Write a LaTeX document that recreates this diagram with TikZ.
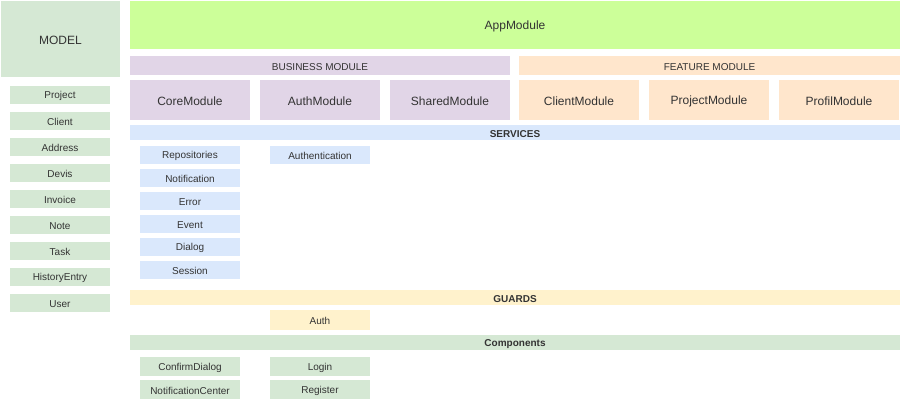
\documentclass[tikz,border=0pt]{standalone}
\usepackage{fontspec}
\setmainfont{Liberation Sans}
\definecolor{cgreen}{HTML}{D5E8D4}
\definecolor{cpurple}{HTML}{E1D5E7}
\definecolor{corange}{HTML}{FFE6CC}
\definecolor{cblue}{HTML}{DAE8FC}
\definecolor{cyellow}{HTML}{FFF2CC}
\definecolor{clime}{HTML}{CCFF99}
\definecolor{ctext}{HTML}{333333}
\begin{document}
\begin{tikzpicture}[x=1pt,y=-1pt,
  box/.style={inner sep=0pt,outer sep=0pt,text=ctext,yshift=-1.2pt,font=\fontsize{10}{12}\selectfont},
  bigbox/.style={box,font=\fontsize{12}{14}\selectfont},
  barlbl/.style={box,font=\fontsize{10}{12}\selectfont\bfseries},
]
\useasboundingbox (0,0) rectangle (901,402);
% helper macro: \bx{name}{x1}{y1}{x2}{y2}{color}{style}{text}
\newcommand{\bx}[8]{%
  \fill[#6] (#2,#3) rectangle (#4,#5);
  \node[#7] (#1) at ({(#2+#4)/2},{(#3+#5)/2}) {#8};}
\bx{model}{1}{1}{120}{77}{cgreen}{bigbox}{MODEL}
\bx{app}{130}{1}{900}{49}{clime}{bigbox}{AppModule}
\bx{business}{130}{56}{510}{75}{cpurple}{box}{BUSINESS MODULE}
\bx{feature}{519}{56}{900}{75}{corange}{box}{FEATURE MODULE}
\bx{core}{130}{80}{250}{120}{cpurple}{bigbox}{CoreModule}
\bx{authm}{260}{80}{380}{120}{cpurple}{bigbox}{AuthModule}
\bx{shared}{390}{80}{510}{120}{cpurple}{bigbox}{SharedModule}
\bx{client}{519}{80}{639}{120}{corange}{bigbox}{ClientModule}
\bx{project}{649}{80}{769}{120}{corange}{bigbox}{ProjectModule}
\bx{profil}{779}{80}{899}{120}{corange}{bigbox}{ProfilModule}
\bx{services}{130}{125}{900}{140}{cblue}{barlbl}{SERVICES}
% model list
\bx{mproject}{10}{86}{110}{104}{cgreen}{box}{Project}
\bx{mclient}{10}{112}{110}{130}{cgreen}{box}{Client}
\bx{maddress}{10}{138}{110}{156}{cgreen}{box}{Address}
\bx{mdevis}{10}{164}{110}{182}{cgreen}{box}{Devis}
\bx{minvoice}{10}{190}{110}{208}{cgreen}{box}{Invoice}
\bx{mnote}{10}{216}{110}{234}{cgreen}{box}{Note}
\bx{mtask}{10}{242}{110}{260}{cgreen}{box}{Task}
\bx{mhist}{10}{268}{110}{286}{cgreen}{box}{HistoryEntry}
\bx{muser}{10}{294}{110}{312}{cgreen}{box}{User}
% services list
\bx{srepo}{140}{146}{240}{164}{cblue}{box}{Repositories}
\bx{snotif}{140}{169}{240}{187}{cblue}{box}{Notification}
\bx{serror}{140}{192}{240}{210}{cblue}{box}{Error}
\bx{sevent}{140}{215}{240}{233}{cblue}{box}{Event}
\bx{sdialog}{140}{238}{240}{256}{cblue}{box}{Dialog}
\bx{ssession}{140}{261}{240}{279}{cblue}{box}{Session}
\bx{sauth}{270}{146}{370}{164}{cblue}{box}{Authentication}
% guards
\bx{guards}{130}{290}{900}{305}{cyellow}{barlbl}{GUARDS}
\bx{gauth}{270}{310}{370}{330}{cyellow}{box}{Auth}
% components
\bx{components}{130}{335}{900}{350}{cgreen}{barlbl}{Components}
\bx{cconfirm}{140}{357}{240}{376}{cgreen}{box}{ConfirmDialog}
\bx{cnotif}{140}{380}{240}{399}{cgreen}{box}{NotificationCenter}
\bx{clogin}{270}{357}{370}{376}{cgreen}{box}{Login}
\bx{cregister}{270}{380}{370}{399}{cgreen}{box}{Register}
\end{tikzpicture}
\end{document}
